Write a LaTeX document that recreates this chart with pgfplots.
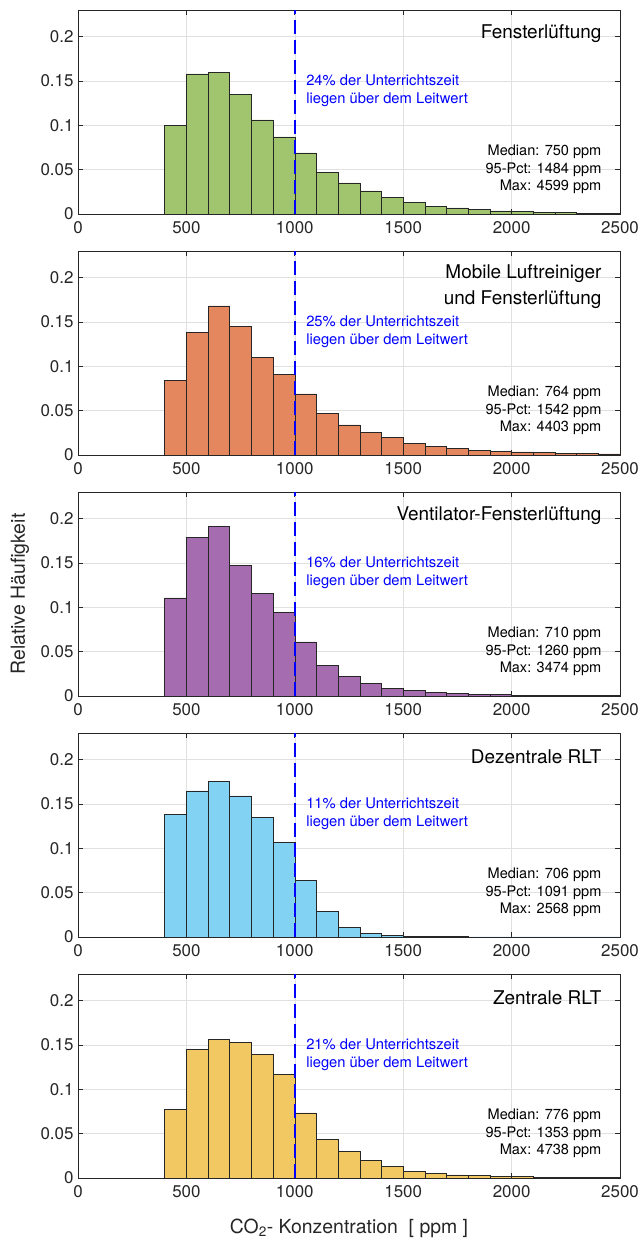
\documentclass[border=0pt]{standalone}
\usepackage{fontspec}
\setmainfont{TeX Gyre Heros}
\usepackage{pgfplots}
\pgfplotsset{compat=1.18}

\definecolor{cgreen}{RGB}{160,197,110}
\definecolor{corange}{RGB}{228,135,94}
\definecolor{cpurple}{RGB}{165,109,176}
\definecolor{ccyan}{RGB}{130,210,243}
\definecolor{cyellow}{RGB}{242,200,99}
\definecolor{axgray}{RGB}{38,38,38}
\definecolor{gridgray}{RGB}{224,224,224}

\pgfplotsset{
  panel/.style={
    width=542bp, height=204bp, scale only axis,
    anchor=north west,
    xmin=0, xmax=2500, ymin=0, ymax=0.23,
    xtick={0,500,1000,1500,2000,2500},
    xticklabels={0,500,1000,1500,2000,2500},
    ytick={0,0.05,0.1,0.15,0.2},
    yticklabels={0,0.05,0.1,0.15,0.2},
    tick align=inside, tick pos=both,
    major tick length=5bp,
    grid=major,
    major grid style={gridgray, line width=0.6bp},
    axis line style={axgray, line width=0.8bp},
    tick style={axgray, line width=0.8bp},
    tick label style={font=\fontsize{17}{20}\selectfont, text=axgray},
    xticklabel style={yshift=-4bp},
    yticklabel style={xshift=-1bp},
  },
  hist/.style={ybar interval, fill=#1, draw=black!85, line width=0.6bp},
}
\tikzset{
  limit/.style={blue, line width=2.6bp, dash pattern=on 14bp off 6bp},
  titlenode/.style={anchor=east, inner sep=0pt, align=right, font=\fontsize{19}{25.7}\selectfont},
  statnode/.style={anchor=east, inner sep=0pt, align=right, font=\fontsize{14.6}{17.6}\selectfont},
  bluenode/.style={anchor=west, inner sep=0pt, align=left, text=blue, font=\fontsize{14.8}{18}\selectfont},
}

\begin{document}
\begin{tikzpicture}
\useasboundingbox (0,0) rectangle (641bp,-1243bp);

% Panel 1
\begin{axis}[panel, at={(78bp,-10bp)}]
\addplot[hist=cgreen] coordinates {
(400,0.100)(500,0.158)(600,0.160)(700,0.135)(800,0.106)(900,0.087)(1000,0.069)(1100,0.047)(1200,0.035)(1300,0.026)(1400,0.019)(1500,0.0135)(1600,0.009)(1700,0.0068)(1800,0.0049)(1900,0.0034)(2000,0.0026)(2100,0.002)(2200,0.0015)(2300,0.0011)(2400,0.001)(2500,0)};
\addplot[limit] coordinates {(1000,0)(1000,0.23)};
\node[titlenode] at (axis cs:2415,0.2036) {Fensterlüftung};
\node[bluenode] at (axis cs:1052,0.139) {24\% der Unterrichtszeit\\liegen über dem Leitwert};
\node[statnode] at (axis cs:2415,0.050) {Median: 750 ppm\\95-Pct: 1484 ppm\\Max: 4599 ppm};
\end{axis}

% Panel 2
\begin{axis}[panel, at={(78bp,-251bp)}]
\addplot[hist=corange] coordinates {
(400,0.084)(500,0.138)(600,0.168)(700,0.145)(800,0.110)(900,0.091)(1000,0.069)(1100,0.047)(1200,0.034)(1300,0.0256)(1400,0.020)(1500,0.0135)(1600,0.0094)(1700,0.0075)(1800,0.0056)(1900,0.0045)(2000,0.0034)(2100,0.0026)(2200,0.0019)(2300,0.0015)(2400,0.0013)(2500,0)};
\addplot[limit] coordinates {(1000,0)(1000,0.23)};
\node[titlenode] at (axis cs:2415,0.190) {Mobile Luftreiniger\\und Fensterlüftung};
\node[bluenode] at (axis cs:1052,0.139) {25\% der Unterrichtszeit\\liegen über dem Leitwert};
\node[statnode] at (axis cs:2415,0.050) {Median: 764 ppm\\95-Pct: 1542 ppm\\Max: 4403 ppm};
\end{axis}

% Panel 3
\begin{axis}[panel, at={(78bp,-492bp)}]
\addplot[hist=cpurple] coordinates {
(400,0.1107)(500,0.1787)(600,0.191)(700,0.147)(800,0.1155)(900,0.0946)(1000,0.061)(1100,0.0348)(1200,0.022)(1300,0.0142)(1400,0.009)(1500,0.006)(1600,0.004)(1700,0.0026)(1800,0.0019)(1900,0.0015)(2000,0.0011)(2100,0.0008)(2200,0.0007)(2300,0.0005)(2400,0.0004)(2500,0)};
\addplot[limit] coordinates {(1000,0)(1000,0.23)};
\node[titlenode] at (axis cs:2415,0.2036) {Ventilator-Fensterlüftung};
\node[bluenode] at (axis cs:1052,0.139) {16\% der Unterrichtszeit\\liegen über dem Leitwert};
\node[statnode] at (axis cs:2415,0.050) {Median: 710 ppm\\95-Pct: 1260 ppm\\Max: 3474 ppm};
\end{axis}

% Panel 4
\begin{axis}[panel, at={(78bp,-733bp)}]
\addplot[hist=ccyan] coordinates {
(400,0.138)(500,0.1647)(600,0.175)(700,0.159)(800,0.1347)(900,0.1066)(1000,0.0634)(1100,0.0289)(1200,0.0109)(1300,0.0041)(1400,0.0019)(1500,0.0007)(1600,0.0004)(1700,0.0003)(1800,0.0002)(1900,0.0001)(2000,0.0001)(2100,0.00005)(2200,0.00005)(2300,0.00003)(2400,0.00003)(2500,0)};
\addplot[limit] coordinates {(1000,0)(1000,0.23)};
\node[titlenode] at (axis cs:2415,0.2036) {Dezentrale RLT};
\node[bluenode] at (axis cs:1052,0.139) {11\% der Unterrichtszeit\\liegen über dem Leitwert};
\node[statnode] at (axis cs:2415,0.050) {Median: 706 ppm\\95-Pct: 1091 ppm\\Max: 2568 ppm};
\end{axis}

% Panel 5
\begin{axis}[panel, at={(78bp,-974bp)}]
\addplot[hist=cyellow] coordinates {
(400,0.0772)(500,0.145)(600,0.1567)(700,0.1526)(800,0.1396)(900,0.117)(1000,0.0735)(1100,0.0433)(1200,0.0299)(1300,0.020)(1400,0.013)(1500,0.0078)(1600,0.0049)(1700,0.0034)(1800,0.0026)(1900,0.0019)(2000,0.0015)(2100,0.0011)(2200,0.0008)(2300,0.0007)(2400,0.0005)(2500,0)};
\addplot[limit] coordinates {(1000,0)(1000,0.23)};
\node[titlenode] at (axis cs:2415,0.2036) {Zentrale RLT};
\node[bluenode] at (axis cs:1052,0.139) {21\% der Unterrichtszeit\\liegen über dem Leitwert};
\node[statnode] at (axis cs:2415,0.050) {Median: 776 ppm\\95-Pct: 1353 ppm\\Max: 4738 ppm};
\end{axis}

\node[rotate=90, inner sep=0pt, text=axgray, font=\fontsize{19.5}{22}\selectfont] at (20bp,-594bp) {Relative Häufigkeit};
\node[inner sep=0pt, text=axgray, font=\fontsize{19.5}{22}\selectfont] at (349bp,-1228bp) {CO\textsubscript{2}- Konzentration\ \ [ ppm ]};
\end{tikzpicture}
\end{document}
